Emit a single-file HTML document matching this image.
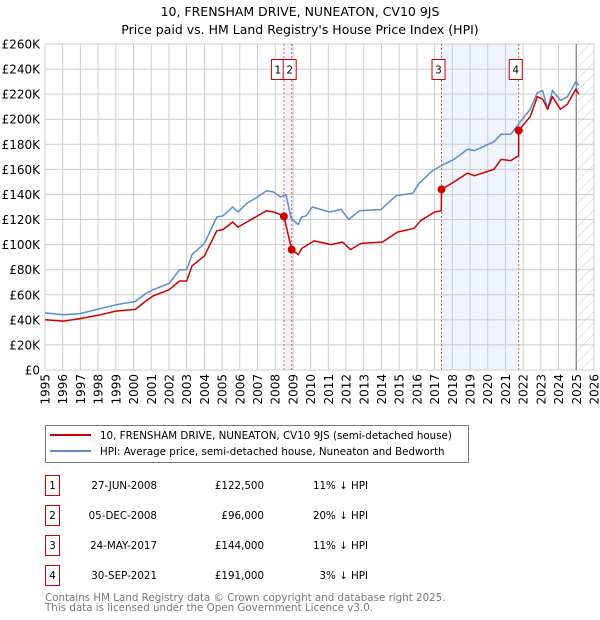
<!DOCTYPE html>
<html><head><meta charset="utf-8"><style>
body{margin:0;background:#fff;}
svg{display:block;font-family:"DejaVu Sans","Liberation Sans",sans-serif;}
</style></head><body>
<svg id="chart" width="600" height="620" viewBox="0 0 600 620">
<defs>
<pattern id="hatch" width="8" height="8" patternUnits="userSpaceOnUse" patternTransform="rotate(45)">
<line x1="0" y1="0" x2="0" y2="8" stroke="#ccc" stroke-width="1"/></pattern>
</defs>
<text x="300" y="16" text-anchor="middle" font-size="12.5">10, FRENSHAM DRIVE, NUNEATON, CV10 9JS</text>
<text x="300" y="34" text-anchor="middle" font-size="12.5">Price paid vs. HM Land Registry's House Price Index (HPI)</text>
<g id="plot"></g>
<g id="legend">
<rect x="45.5" y="425.5" width="423" height="37" fill="#fff" stroke="#777"/>
<line x1="50" y1="435" x2="91" y2="435" stroke="#cc0000" stroke-width="2"/>
<text x="100" y="439" font-size="10.3">10, FRENSHAM DRIVE, NUNEATON, CV10 9JS (semi-detached house)</text>
<line x1="50" y1="451" x2="91" y2="451" stroke="#5b8dd0" stroke-width="2"/>
<text x="100" y="455" font-size="10.3">HPI: Average price, semi-detached house, Nuneaton and Bedworth</text>
</g>
<g id="table" font-size="10.3"></g>
<text x="45" y="601" font-size="10.3" fill="#777">Contains HM Land Registry data © Crown copyright and database right 2025.</text>
<text x="45" y="611" font-size="10.3" fill="#777">This data is licensed under the Open Government Licence v3.0.</text>
</svg>
<script>
const hpiYears=[1995.0,1996.04,1996.98,1998.0,1999.0,2000.1,2000.7,2001.1,2002.0,2002.6,2003.0,2003.3,2004.0,2004.7,2005.05,2005.6,2005.9,2006.4,2006.9,2007.5,2007.9,2008.3,2008.6,2008.9,2009.3,2009.5,2009.75,2010.1,2011.06,2011.72,2012.15,2012.75,2013.98,2014.82,2015.76,2016.13,2016.89,2017.5,2018.1,2018.85,2019.25,2020.35,2020.75,2021.3,2021.85,2022.4,2022.8,2023.1,2023.38,2023.65,2024.1,2024.5,2024.97,2025.15];
const hpiValues=[45.5,44,45,48.6,52,54.6,61,64,69,80,80,92,101,122,123,130,126,133,137,143,142,138,140,121,116,122,123,130,126,128,120,127,128,139,141,149,159,164,168,176,175,182,188,188,198,208,221,223,208,223,215,218,230,227];
const redYears=[1995.0,1996.04,1996.98,1998.0,1999.0,2000.1,2000.7,2001.1,2002.0,2002.6,2003.0,2003.3,2004.0,2004.7,2005.05,2005.6,2005.9,2006.4,2006.9,2007.5,2007.9,2008.3,2008.49,2008.93,2009.3,2009.5,2010.2,2011.15,2011.8,2012.25,2012.85,2014.05,2014.9,2015.85,2016.2,2017.0,2017.38,2017.39,2018.1,2018.85,2019.25,2020.35,2020.75,2021.3,2021.74,2021.75,2022.4,2022.8,2023.1,2023.38,2023.65,2024.1,2024.5,2024.97,2025.15];
const redValues=[40,39,41,43.6,47,48.3,55,59,64,71,71,83,91,111,112,118,114,118,122,127,126,124,122.5,96,92,97,103,100,102,96,101,102,110,113,119,126,127,144,150,157,155,160,168,167,171,191,202,218,216,208,218,208,212,224,220];
const saleYears=[2008.49,2008.93,2017.39,2021.75];
const saleValues=[122.5,96,144,191];
const saleLabels=["1","2","3","4"];
const saleDates=["27-JUN-2008","05-DEC-2008","24-MAY-2017","30-SEP-2021"];
const salePrices=["£122,500","£96,000","£144,000","£191,000"];
const saleHpi=["11% ↓ HPI","20% ↓ HPI","11% ↓ HPI","3% ↓ HPI"];
const yTicks=[0,20,40,60,80,100,120,140,160,180,200,220,240,260];
const xTicks=[1995,1996,1997,1998,1999,2000,2001,2002,2003,2004,2005,2006,2007,2008,2009,2010,2011,2012,2013,2014,2015,2016,2017,2018,2019,2020,2021,2022,2023,2024,2025,2026];

const NS="http://www.w3.org/2000/svg";
const X0=45,X1=594,Y0=370,Y1=44;
function xs(y){return X0+(y-1995)/(2026-1995)*(X1-X0);}
function ys(v){return Y0-(v/260)*(Y0-Y1);}
function mk(tag,attrs,parent){const e=document.createElementNS(NS,tag);for(const k in attrs)e.setAttribute(k,attrs[k]);parent.appendChild(e);return e;}
const plot=document.getElementById('plot');

const sh1=mk('rect',{x:xs(saleYears[0]),y:Y1,width:xs(saleYears[1])-xs(saleYears[0]),height:Y0-Y1,fill:'#eef3fc'},plot);


const sh2=mk('rect',{x:xs(saleYears[2]),y:Y1,width:xs(saleYears[3])-xs(saleYears[2]),height:Y0-Y1,fill:'#eef3fc'},plot);


const ht=mk('rect',{x:xs(2025),y:Y1,width:X1-xs(2025),height:Y0-Y1,fill:'url(#hatch)'},plot);



yTicks.forEach(v=>{
 const l=mk('line',{x1:X0,x2:X1,y1:ys(v),y2:ys(v),stroke:'#ccc','stroke-width':1},plot);
 
 
 const t=mk('text',{x:40,y:ys(v)+4.5,'text-anchor':'end','font-size':'12'},plot);
 t.textContent=v===0?'£0':'£'+v+'K';
 
 
});
xTicks.forEach(yr=>{
 const l=mk('line',{x1:xs(yr),x2:xs(yr),y1:Y1,y2:Y0,stroke:'#ccc','stroke-width':1},plot);
 
 
 const t=mk('text',{x:0,y:0,'text-anchor':'end','font-size':'12',transform:`translate(${xs(yr)+4.5},374) rotate(-90)`},plot);
 t.textContent=yr;
 
 
});
const nl=mk('line',{x1:xs(2025),x2:xs(2025),y1:Y1,y2:Y0,stroke:'#888','stroke-width':1.3},plot);



saleYears.forEach((yr,i)=>{
 const l=mk('line',{x1:xs(yr),x2:xs(yr),y1:Y1,y2:Y0,stroke:'#e06060','stroke-width':1,'stroke-dasharray':'2,2'},plot);
 
 
});
const labelOff=[-6,-2,-3,-3];
saleYears.forEach((yr,i)=>{
 const cx=xs(yr)+labelOff[i];
 const r=mk('rect',{x:cx-6.5,y:59.5,width:13,height:20,fill:'#fff',stroke:'#cc0000','stroke-width':1},plot);
 
 
 const t=mk('text',{x:cx,y:73.5,'text-anchor':'middle','font-size':'10.5'},plot);
 t.textContent=saleLabels[i];
 
 
});

function path(xv,yv){return xv.map((x,i)=>(i?'L':'M')+xs(x).toFixed(1)+' '+ys(yv[i]).toFixed(1)).join(' ');}
const hp=mk('path',{d:path(hpiYears,hpiValues),fill:'none',stroke:'#5b8dd0','stroke-width':1.5,'stroke-linejoin':'round'},plot);


const rp=mk('path',{d:path(redYears,redValues),fill:'none',stroke:'#cc0000','stroke-width':1.5,'stroke-linejoin':'round'},plot);


saleYears.forEach((yr,i)=>{
 const c=mk('circle',{cx:xs(yr),cy:ys(saleValues[i]),r:4,fill:'#cc0000'},plot);
 
 
});

const tb=document.getElementById('table');
saleLabels.forEach((lab,i)=>{
 const y0=475+i*30;
 const r=mk('rect',{x:45.5,y:y0+0.5,width:14,height:20,fill:'#fff',stroke:'#cc0000','stroke-width':1},tb);
 
 
 const cells=[[52.5,'middle',lab,'table-row-number'],[157,'end',saleDates[i],'table-date'],[264,'end',salePrices[i],'table-price'],[368,'end',saleHpi[i],'table-hpi-diff']];
 cells.forEach(c=>{
  const t=mk('text',{x:c[0],y:y0+14,'text-anchor':c[1]},tb);
  t.textContent=c[2];
  
  
 });
});
</script>
</body></html>
